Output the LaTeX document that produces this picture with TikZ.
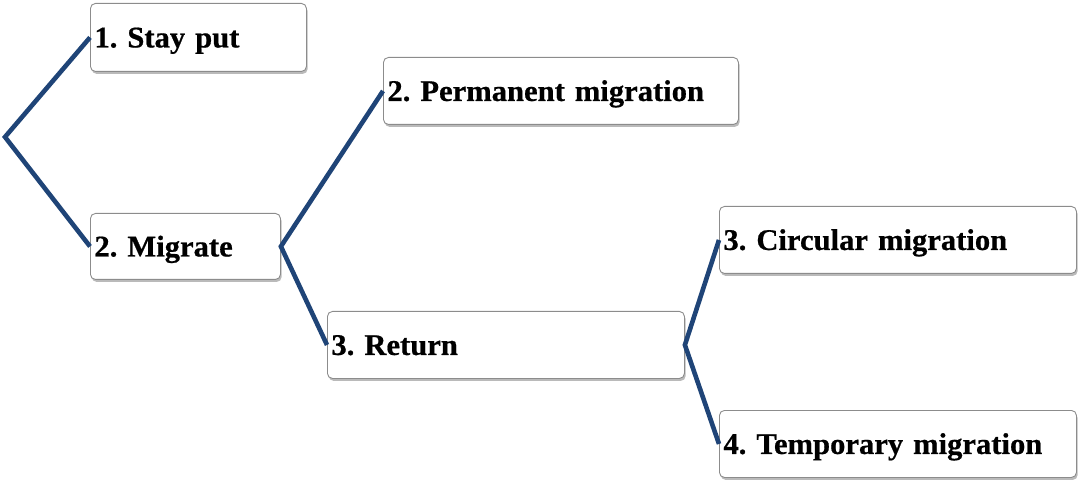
\documentclass[tikz,border=0pt]{standalone}
\usepackage{fontspec}
\setmainfont{Liberation Serif}[FakeStretch=1.02, BoldFeatures={FakeBold=0.6}]
\usetikzlibrary{shadows}
\definecolor{linkblue}{HTML}{1F4477}
\tikzset{
  box/.style={draw=black!45, line width=0.9bp, rounded corners=5bp, fill=white,
    drop shadow={shadow xshift=1.2bp, shadow yshift=-2.5bp, fill=black!60, opacity=0.45},
    anchor=north west, inner xsep=4bp, inner ysep=0bp, align=left,
    text height=21bp, text depth=1bp,
    font=\fontsize{30bp}{34bp}\selectfont\bfseries\frenchspacing},
  link/.style={draw=linkblue, line width=4.6bp}
}
\begin{document}
\begin{tikzpicture}[x=1bp,y=-1bp]
\useasboundingbox (0,0) rectangle (1078,481);
\coordinate (root) at (5,137);
\node[box, minimum width=216bp, minimum height=68bp, text width=208bp] (stay) at (90,3) {\mbox{1. Stay put}};
\node[box, minimum width=190bp, minimum height=66bp, text width=182bp] (migrate) at (90,213) {\mbox{2. Migrate}};
\node[box, minimum width=355bp, minimum height=67bp, text width=347bp] (perm) at (383,57) {\mbox{2. Permanent migration}};
\node[box, minimum width=357bp, minimum height=67bp, text width=349bp] (return) at (327,311) {\mbox{3. Return}};
\node[box, minimum width=357bp, minimum height=67bp, text width=349bp] (circ) at (719,206) {\mbox{3. Circular migration}};
\node[box, minimum width=357bp, minimum height=67bp, text width=349bp] (temp) at (719,410) {\mbox{4. Temporary migration}};
\draw[link] (stay.west) -- (root) -- (migrate.west);
\draw[link] (perm.west) -- (migrate.east) -- (return.west);
\draw[link] (circ.west) -- (return.east) -- (temp.west);
\end{tikzpicture}
\end{document}
